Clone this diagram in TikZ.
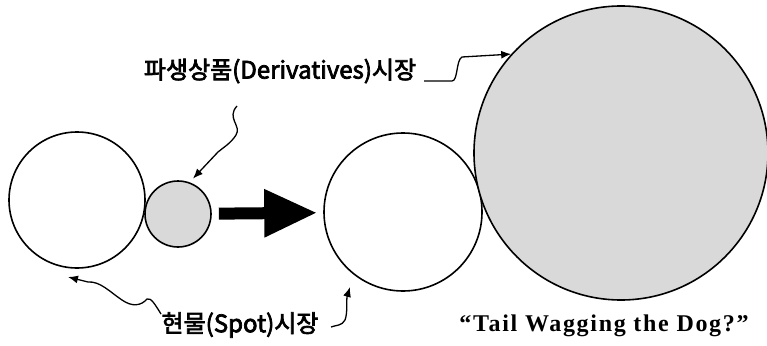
\documentclass[tikz,border=0pt]{standalone}
\usepackage{fontspec}
\newfontfamily\krfont[FakeBold=3]{Noto Sans CJK KR}
\newfontfamily\tailfont[LetterSpace=7]{Liberation Serif}
\usetikzlibrary{arrows.meta,positioning}

\begin{document}
\begin{tikzpicture}[x=1pt, y=-1pt,
    mkt/.style={draw, circle, line width=1.6pt, inner sep=0pt},
    wiggle/.style={line width=1.3pt, -{Latex[length=10pt,width=8pt]}},
    every node/.style={font=\krfont\fontsize{24}{26}\selectfont}]
  \useasboundingbox (0,0) rectangle (767,345);
  % markets
  \node (spotL) [mkt, minimum size=136pt] at (77,200) {};
  \node (derivS) [mkt, fill=gray!30, minimum size=66pt] at (178,214) {};
  \node (spotR) [mkt, minimum size=158pt] at (403,212) {};
  \node (derivB) [mkt, fill=gray!30, minimum size=294pt] at (621,153) {};
  \draw[line width=12pt, -{Triangle[length=53pt,width=45pt]}, shorten <=7pt, shorten >=6pt] (derivS) -- (spotR);
  % labels
  \node (derivT) at (280,71) {파생상품(Derivatives)시장};
  \node (spotT) at (240,325) {현물(Spot)시장};
  \node (tailT) [font=\tailfont\bfseries\fontsize{24}{26}\selectfont] at (604,326) {“Tail Wagging the Dog?”};
  % pointers
  \coordinate (w1) at (237,106);
  \coordinate (w2) at (424,81);
  \coordinate (w3) at (161,314);
  \coordinate (tipL) at (68,277);
  \coordinate (w4) at (331,327);
  \coordinate (tipR) at (350,287);
  \draw[wiggle, shorten >=5pt] (w1) .. controls (226,118) and (242,126) .. (236,135) .. controls (231,143) and (224,147) .. (218,152) -- (derivS.70);
  \draw[wiggle] (w2) -- (452,81) .. controls (458,81) and (456,60) .. (462,57) -- (derivB.138);
  \draw[wiggle] (w3) .. controls (156,306) and (151,297) .. (147,299) .. controls (141,306) and (132,307) .. (122,300) .. controls (110,292) and (100,281) .. (88,282) -- (tipL);
  \draw[wiggle] (w4) .. controls (336,325) and (342,326) .. (345,320) .. controls (348,312) and (346,300) .. (tipR);
\end{tikzpicture}
\end{document}
